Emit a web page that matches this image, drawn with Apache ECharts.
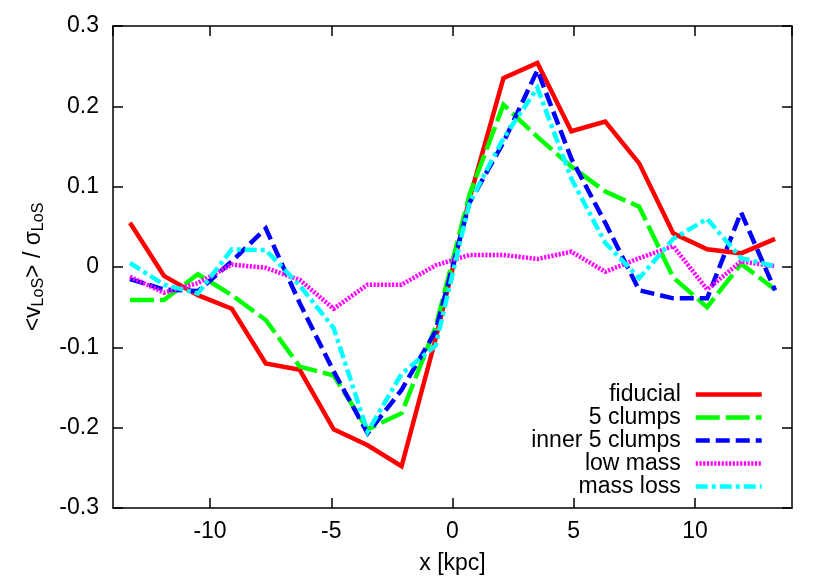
<!DOCTYPE html>
<html>
<head>
<meta charset="utf-8">
<script src="https://cdn.jsdelivr.net/npm/echarts@6/dist/echarts.min.js"></script>
<style>
  html, body { margin: 0; padding: 0; background: #fff; }
  #chart { width: 830px; height: 582px; }
</style>
</head>
<body>
<div id="chart"></div>
<script>
// bin centres along x (kpc)
const xs = [-13.3, -11.9, -10.5, -9.1, -7.7, -6.3, -4.9, -3.5, -2.1, -0.7,
  0.7, 2.1, 3.5, 4.9, 6.3, 7.7, 9.1, 10.5, 11.9, 13.3];

const fiducial = [0.055, -0.011, -0.035, -0.052, -0.12, -0.128, -0.202, -0.222, -0.248, -0.09,
  0.085, 0.235, 0.254, 0.169, 0.181, 0.129, 0.042, 0.022, 0.017, 0.035];
const clumps5 = [-0.041, -0.041, -0.009, -0.035, -0.066, -0.124, -0.135, -0.202, -0.182, -0.075,
  0.09, 0.202, 0.162, 0.125, 0.094, 0.075, -0.013, -0.05, 0.004, -0.028];
const inner5 = [-0.015, -0.028, -0.03, 0.007, 0.048, -0.045, -0.13, -0.207, -0.153, -0.08,
  0.08, 0.155, 0.245, 0.135, 0.055, -0.029, -0.039, -0.039, 0.068, -0.029];
const lowMass = [-0.012, -0.032, -0.02, 0.003, -0.001, -0.016, -0.052, -0.022, -0.022, 0.002,
  0.015, 0.015, 0.01, 0.019, -0.006, 0.011, 0.026, -0.028, 0.007, 0.001];
const massLoss = [0.005, -0.022, -0.033, 0.022, 0.021, -0.023, -0.076, -0.205, -0.133, -0.098,
  0.08, 0.16, 0.223, 0.11, 0.03, -0.014, 0.035, 0.06, 0.011, 0.001];

const names = ['fiducial', '5 clumps', 'inner 5 clumps', 'low mass', 'mass loss'];

const font = "'Liberation Sans', Arial, sans-serif";
const pair = (ys) => xs.map((x, i) => [x, ys[i]]);

const chart = echarts.init(document.getElementById('chart'));

const styles = [
  { color: '#ff0000', type: 'solid' },
  { color: '#00ff00', type: [24, 6] },
  { color: '#0000ff', type: [14, 6] },
  { color: '#ff00ff', type: [2.2, 1.5] },
  { color: '#00ffff', type: [12, 4, 4, 4] }
];
const datasets = [fiducial, clumps5, inner5, lowMass, massLoss];

const series = names.map((n, i) => ({
  name: n,
  type: 'line',
  symbol: 'none',
  animation: false,
  color: styles[i].color,
  lineStyle: { color: styles[i].color, width: 4.5, type: styles[i].type, cap: 'butt', join: 'miter' },
  data: pair(datasets[i])
}));

const legendTops = [383, 406, 429, 452, 475];
const legends = names.map((n, i) => ({
  data: [n],
  right: 66,
  top: legendTops[i],
  align: 'right',
  itemWidth: 66,
  itemHeight: 20,
  padding: 0,
  selectedMode: false,
  itemStyle: { opacity: 0 },
  lineStyle: { width: 4.5, type: styles[i].type, cap: 'butt' },
  textStyle: { fontSize: 23, fontFamily: font, color: '#000', padding: [0, 10, 0, 0] }
}));

const axisCommon = {
  type: 'value',
  axisLine: { show: true, onZero: false, lineStyle: { color: '#000', width: 1.5 } },
  axisTick: { show: true, inside: true, length: 10, lineStyle: { color: '#000', width: 1.5 } },
  splitLine: { show: false }
};

chart.setOption({
  backgroundColor: '#fff',
  grid: { left: 113, right: 38, top: 26, bottom: 74 },
  legend: legends,
  xAxis: [
    Object.assign({}, axisCommon, {
      position: 'bottom', min: -14, max: 14,
      name: 'x [kpc]', nameLocation: 'middle', nameGap: 44,
      nameTextStyle: { fontSize: 23, fontFamily: font, color: '#000' },
      axisLabel: { fontSize: 23, fontFamily: font, color: '#000', margin: 12,
        showMinLabel: false, showMaxLabel: false }
    }),
    Object.assign({}, axisCommon, {
      position: 'top', min: -14, max: 14,
      axisLabel: { show: false }
    })
  ],
  yAxis: [
    Object.assign({}, axisCommon, {
      position: 'left', min: -0.3, max: 0.3, interval: 0.1,
      name: '<v{sub|LoS}> / σ{sub|LoS}', nameLocation: 'middle', nameGap: 66,
      nameTextStyle: { fontSize: 23, fontFamily: font, color: '#000',
        rich: { sub: { fontSize: 16, fontFamily: font, color: '#000', padding: [10, 0, 0, 0] } } },
      axisLabel: { fontSize: 23, fontFamily: font, color: '#000', margin: 14 }
    }),
    Object.assign({}, axisCommon, {
      position: 'right', min: -0.3, max: 0.3, interval: 0.1,
      axisLabel: { show: false }
    })
  ],
  series: series
});
</script>
</body>
</html>
